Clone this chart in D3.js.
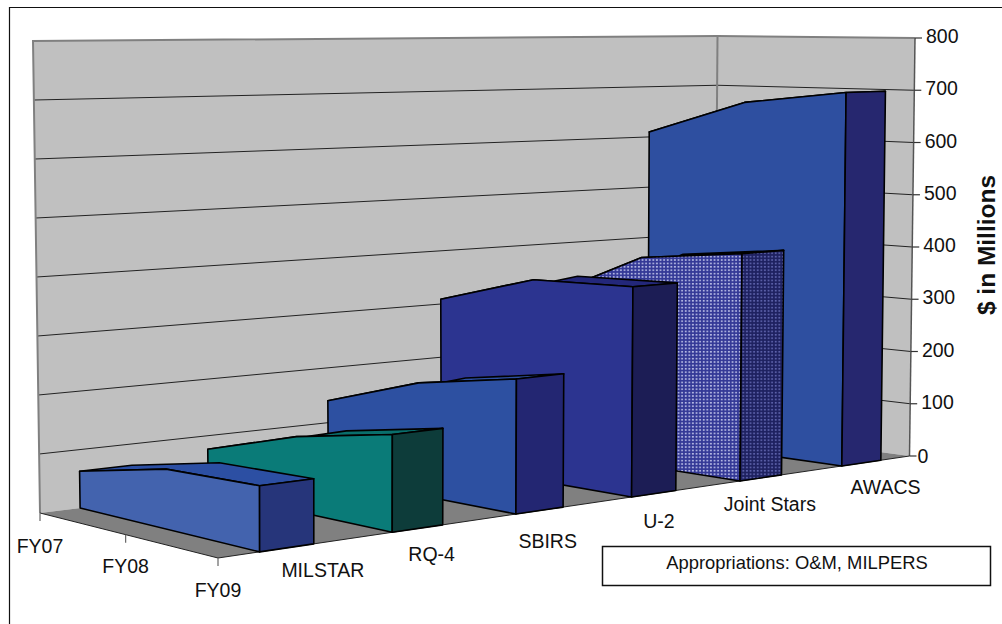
<!DOCTYPE html>
<html><head><meta charset="utf-8">
<script src="https://cdn.jsdelivr.net/npm/d3@7"></script>
<style>html,body{margin:0;padding:0;background:#fff;overflow:hidden}svg{display:block}text{font-family:"Liberation Sans",Arial,sans-serif;fill:#111}</style>
</head><body><svg id="c" width="1002" height="624"></svg>
<script>
const programs = ["MILSTAR","RQ-4","SBIRS","U-2","Joint Stars","AWACS"];
const years = ["FY07","FY08","FY09"];
const milstar = [63,99,105];
const rq4 = [76,128,161];
const sbirs = [140,198,230];
const u2 = [309,364,370];
const jointStars = [300,390,413];
const awacs = [610,675,700];
const valueTicks = [0,100,200,300,400,500,600,700,800];
const seriesValues = [milstar,rq4,sbirs,u2,jointStars,awacs];
const sideColors = ["#4363ae","#0a7b78","#2d50a1","#2c3490","url(#dots1)","#2e4fa0"];
const endColors = ["#26357a","#0d3c3a","#232672","#1c1d55","url(#dots2)","#26276f"];
const topColors = ["#2c4fa3","#0a6f6c","#2d50a1","#23277a","#2c3490","#2e4fa0"];
const programLabelOffset = [[36,29],[14,32],[8,37],[5,34],[9,33],[24,31]];
const yearLabelOffset = [[0,40],[0,38],[0,39]];

const svg = d3.select("#c");
const defs = svg.append("defs");
function dots(id,bg,fg){
  const p=defs.append("pattern").attr("id",id).attr("width",3.6).attr("height",3.4).attr("patternUnits","userSpaceOnUse");
  p.append("rect").attr("width",3.6).attr("height",3.4).attr("fill",bg);
  p.append("rect").attr("x",0.8).attr("y",0.8).attr("width",1.8).attr("height",1.6).attr("fill",fg);
}
dots("dots1","#333896","#b9bde6");
dots("dots2","#1e2160","#5f64ad");

const sScale = d3.scaleBand().domain(programs).range([0,1]).paddingInner(0.6).paddingOuter(0.3);
const dScale = d3.scalePoint().domain(years).range([0,1]);
const vScale = d3.scaleLinear().domain([0,800]).range([0,1]);

// perspective frame of the 3-D box
const W = {bl:1/472, br:1/393, fl:1/509, fr:1/418};
const base = {bl:[40,513], br:[714.5,430], fl:[218,558], fr:[909.5,456]};
const roof = {bl:[33,41], br:[717.5,36], fl:[217,49], fr:[915,38]};
function project(s,d,v){
  const c=[["bl",(1-s)*(1-d)],["br",s*(1-d)],["fl",(1-s)*d],["fr",s*d]];
  let X=0,Y=0,T=0;
  c.forEach(([k,a])=>{
    const w=a*W[k];
    X+=w*(base[k][0]*(1-v)+roof[k][0]*v);
    Y+=w*(base[k][1]*(1-v)+roof[k][1]*v);
    T+=w;
  });
  return [X/T,Y/T];
}
const pts=a=>a.map(p=>p.join(",")).join(" ");
const P=(s,d,v)=>project(s,d,vScale(v));

// outer frame
svg.append("path").attr("d","M9.5,624V7.5H1002").attr("fill","none").attr("stroke","#111").attr("stroke-width",1.2);

// walls and floor
const vMax=800;
svg.append("polygon").attr("points",pts([P(0,0,0),P(0,0,vMax),P(1,0,vMax),P(1,0,0)])).attr("fill","#c0c0c0");
svg.append("polygon").attr("points",pts([P(1,0,0),P(1,0,vMax),P(1,1,vMax),P(1,1,0)])).attr("fill","#c0c0c0");
svg.append("polygon").attr("points",pts([P(0,0,0),P(1,0,0),P(1,1,0),P(0,1,0)])).attr("fill","#808080");
const line=(a,b,col,w)=>svg.append("line").attr("x1",a[0]).attr("y1",a[1]).attr("x2",b[0]).attr("y2",b[1]).attr("stroke",col).attr("stroke-width",w);
valueTicks.filter(t=>t>0&&t<vMax).forEach(t=>{
  line(P(0,0,t),P(1,0,t),"#222",1);
  line(P(1,0,t),P(1,1,t),"#222",1);
});
svg.append("polyline").attr("points",pts([P(0,0,0),P(0,0,vMax),P(1,0,vMax),P(1,1,vMax)])).attr("fill","none").attr("stroke","#808080").attr("stroke-width",2);
line(P(1,0,0),P(1,0,vMax),"#808080",2);
line(P(1,1,0),P(1,1,vMax),"#555",1.5);
svg.append("polyline").attr("points",pts([P(0,0,0),P(0,1,0),P(1,1,0)])).attr("fill","none").attr("stroke","#222").attr("stroke-width",1);

// ribbons, back to front
programs.map((name,i)=>i).reverse().forEach(i=>{
  const s0=sScale(programs[i]), s1=s0+sScale.bandwidth();
  const vals=seriesValues[i];
  const g=svg.append("g").attr("stroke","#000").attr("stroke-width",1.6).attr("stroke-linejoin","round");
  const left=years.map((y,j)=>P(s0,dScale(y),vals[j]));
  const right=years.map((y,j)=>P(s1,dScale(y),vals[j]));
  g.append("polygon").attr("points",pts(left.concat(right.slice().reverse()))).attr("fill",topColors[i]);
  g.append("polygon").attr("points",pts(left.concat([P(s0,1,0),P(s0,0,0)]))).attr("fill",sideColors[i]);
  g.append("polygon").attr("points",pts([P(s0,1,vals[2]),P(s1,1,vals[2]),P(s1,1,0),P(s0,1,0)])).attr("fill",endColors[i]);
});

// axis ticks and labels
const fs=19.5;
valueTicks.forEach(t=>{
  const p=P(1,1,t);
  line(p,[p[0]+7,p[1]],"#333",1.2);
  svg.append("text").attr("x",p[0]+(t===0?8:11)).attr("y",p[1]+(t===0?7:5)).attr("font-size",fs).text(t);
});
years.forEach((y,i)=>{
  const p=P(0,dScale(y),0);
  line(p,[p[0],p[1]+8],"#666",1.2);
  svg.append("text").attr("x",p[0]+yearLabelOffset[i][0]).attr("y",p[1]+yearLabelOffset[i][1]).attr("text-anchor","middle").attr("font-size",fs).text(y);
});
programs.forEach((n,i)=>{
  const s=sScale(n)+sScale.bandwidth()/2;
  const p=P(s,1,0);
  svg.append("text").attr("x",p[0]+programLabelOffset[i][0]).attr("y",p[1]+programLabelOffset[i][1]).attr("text-anchor","middle").attr("font-size",fs).text(n);
});
svg.append("text").attr("transform","translate(995,245) rotate(-90)").attr("text-anchor","middle").attr("font-size",24.5).attr("font-weight","bold").text("$ in Millions");
svg.append("rect").attr("x",602.5).attr("y",546.5).attr("width",388).attr("height",39).attr("fill","#fff").attr("stroke","#111").attr("stroke-width",1.5);
svg.append("text").attr("x",797).attr("y",569).attr("text-anchor","middle").attr("font-size",18.4).text("Appropriations: O&M, MILPERS");
</script></body></html>
